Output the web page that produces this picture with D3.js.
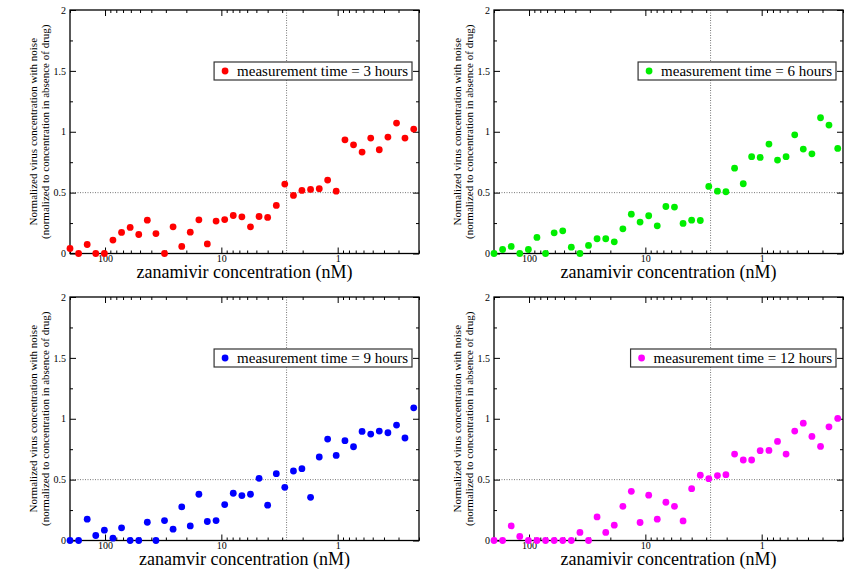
<!DOCTYPE html>
<html>
<head>
<meta charset="utf-8">
<script src="https://cdn.jsdelivr.net/npm/d3@7"></script>
<style>
  body { margin: 0; background: #fff; }
  svg text { font-family: "Liberation Serif", "DejaVu Serif", serif; fill: #000; }
</style>
</head>
<body>
<script>
const width = 861;
const height = 569;
const serif = '"Liberation Serif", "DejaVu Serif", serif';

// drug concentrations (nM), same for all four panels
const concentrations = [200, 168.7, 142.3, 120.1, 101.3, 85.5, 72.1, 60.8, 51.3, 43.3,
  36.5, 30.8, 26.0, 21.9, 18.5, 15.6, 13.2, 11.1, 9.36, 7.90,
  6.66, 5.62, 4.74, 4.00, 3.37, 2.85, 2.40, 2.03, 1.71, 1.44,
  1.22, 1.03, 0.866, 0.731, 0.617, 0.520, 0.439, 0.370, 0.312, 0.264, 0.222];

const resp3h = [0.041, 0, 0.074, 0, 0, 0.11, 0.173, 0.214, 0.156, 0.274,
  0.164, 0, 0.219, 0.058, 0.175, 0.277, 0.079, 0.266, 0.279, 0.312,
  0.301, 0.219, 0.304, 0.296, 0.395, 0.570, 0.477, 0.518, 0.526, 0.532,
  0.603, 0.512, 0.934, 0.893, 0.833, 0.948, 0.852, 0.956, 1.071, 0.948, 1.022];

const resp6h = [0, 0.033, 0.058, 0, 0.033, 0.132, 0, 0.170, 0.186, 0.052,
  0, 0.066, 0.121, 0.121, 0.096, 0.203, 0.323, 0.258, 0.310, 0.227,
  0.386, 0.381, 0.247, 0.274, 0.271, 0.551, 0.512, 0.507, 0.701, 0.573,
  0.795, 0.789, 0.899, 0.767, 0.795, 0.975, 0.858, 0.819, 1.115, 1.055, 0.863];

const resp9h = [0, 0, 0.175, 0.041, 0.085, 0.019, 0.104, 0, 0, 0.150,
  0, 0.164, 0.093, 0.276, 0.120, 0.380, 0.156, 0.164, 0.295, 0.388,
  0.369, 0.380, 0.511, 0.290, 0.549, 0.437, 0.571, 0.590, 0.355, 0.686,
  0.833, 0.699, 0.820, 0.770, 0.896, 0.874, 0.899, 0.885, 0.948, 0.842, 1.090];

const resp12h = [0, 0, 0.120, 0.033, 0, 0, 0, 0, 0, 0,
  0.066, 0, 0.194, 0.066, 0.126, 0.281, 0.404, 0.148, 0.372, 0.175,
  0.314, 0.281, 0.161, 0.426, 0.536, 0.508, 0.533, 0.541, 0.710, 0.661,
  0.661, 0.738, 0.740, 0.814, 0.710, 0.899, 0.964, 0.855, 0.773, 0.934, 1.003];

const legendLabels = ["measurement time = 3 hours", "measurement time = 6 hours",
  "measurement time = 9 hours", "measurement time = 12 hours"];
const xTitles = ["zanamivir concentration (nM)", "zanamivir concentration (nM)",
  "zanamvir concentration (nM)", "zanamivir concentration (nM)"];
const colors = ["#ff0000", "#00ee00", "#0000ff", "#ff00ff"];
const series = [resp3h, resp6h, resp9h, resp12h];

const xDomain = [200, 0.2];
const yDomain = [0, 2];
const xMajorTicks = [100, 10, 1];
const yMajorTicks = [0, 0.5, 1, 1.5, 2];
const yMinorTicks = [0.25, 0.75, 1.25, 1.75];
const refConc = 2.75;   // vertical dotted line
const refResp = 0.5;    // horizontal dotted line

const panels = [
  {left: 70, top: 10},
  {left: 494, top: 10},
  {left: 70, top: 297},
  {left: 494, top: 297}
];
const pw = 349, ph = 243.5;

const svg = d3.select('body')
  .append('svg')
  .attr('width', width)
  .attr('height', height)
  .attr('font-family', serif);

const x = d3.scaleLog().domain(xDomain).range([0, pw]);
const y = d3.scaleLinear().domain(yDomain).range([ph, 0]);
const xMinorTicks = x.ticks().filter(d => !xMajorTicks.includes(d));

panels.forEach((p, i) => {
  const g = svg.append('g')
    .attr('transform', `translate(${p.left}, ${p.top})`);

  // reference lines
  g.append('line')
    .attr('x1', x(refConc)).attr('x2', x(refConc))
    .attr('y1', 0).attr('y2', ph)
    .style('stroke', '#555').style('stroke-width', 0.8)
    .style('stroke-dasharray', '1,1.5');
  g.append('line')
    .attr('x1', 0).attr('x2', pw)
    .attr('y1', y(refResp)).attr('y2', y(refResp))
    .style('stroke', '#555').style('stroke-width', 0.8)
    .style('stroke-dasharray', '1,1.5');

  // inward ticks on all four sides
  const axes = [
    g.append('g').attr('transform', `translate(0, ${ph})`)
      .call(d3.axisBottom(x).tickValues(xMajorTicks).tickSize(-6).tickPadding(1).tickFormat(d3.format(''))),
    g.append('g').attr('transform', `translate(0, ${ph})`)
      .call(d3.axisBottom(x).tickValues(xMinorTicks).tickSize(-3).tickFormat('')),
    g.append('g')
      .call(d3.axisTop(x).tickValues(xMajorTicks).tickSize(-6).tickFormat('')),
    g.append('g')
      .call(d3.axisTop(x).tickValues(xMinorTicks).tickSize(-3).tickFormat('')),
    g.append('g')
      .call(d3.axisLeft(y).tickValues(yMajorTicks).tickSize(-6).tickPadding(4).tickFormat(d3.format(''))),
    g.append('g')
      .call(d3.axisLeft(y).tickValues(yMinorTicks).tickSize(-3).tickFormat('')),
    g.append('g').attr('transform', `translate(${pw}, 0)`)
      .call(d3.axisRight(y).tickValues(yMajorTicks).tickSize(-6).tickFormat('')),
    g.append('g').attr('transform', `translate(${pw}, 0)`)
      .call(d3.axisRight(y).tickValues(yMinorTicks).tickSize(-3).tickFormat(''))
  ];
  axes.forEach(a => {
    a.attr('font-family', serif);
    a.select('.domain').remove();
    a.selectAll('line').style('stroke', '#000').style('stroke-width', 1);
    a.selectAll('text')
      .style('font-family', serif)
      .style('font-size', '10px');
  });

  // frame
  g.append('rect')
    .attr('width', pw).attr('height', ph)
    .style('fill', 'none').style('stroke', '#000').style('stroke-width', 1.3);

  // points
  g.selectAll('circle.pt')
    .data(series[i])
    .enter()
    .append('circle')
    .attr('class', 'pt')
    .attr('cx', (d, k) => x(concentrations[k]))
    .attr('cy', d => y(d))
    .attr('r', 3.4)
    .style('fill', colors[i]);

  // axis titles
  g.append('text')
    .attr('x', pw / 2).attr('y', ph + 24.5)
    .attr('text-anchor', 'middle')
    .style('font-family', serif)
    .style('font-size', '18px')
    .text(xTitles[i]);

  const yl = g.append('text')
    .attr('transform', `translate(-33, ${ph / 2}) rotate(-90)`)
    .attr('text-anchor', 'middle')
    .style('font-family', serif)
    .style('font-size', '11px');
  yl.append('tspan').attr('x', 0).attr('y', 0)
    .text('Normalized virus concentration with noise');
  yl.append('tspan').attr('x', 0).attr('y', 12)
    .text('(normalized to concentration in absence of drug)');

  // legend
  const lg = g.append('g');
  const lt = lg.append('text')
    .attr('y', 0)
    .style('font-family', serif)
    .style('font-size', '15px')
    .text(legendLabels[i]);
  const tw = lt.node().getComputedTextLength();
  const boxRight = pw - 7;
  const boxLeft = boxRight - tw - 27;
  const boxTop = 52;
  lg.insert('rect', 'text')
    .attr('x', boxLeft).attr('y', boxTop)
    .attr('width', boxRight - boxLeft).attr('height', 18)
    .style('fill', '#fff').style('stroke', '#333').style('stroke-width', 1.2);
  lg.append('circle')
    .attr('cx', boxLeft + 11).attr('cy', boxTop + 9)
    .attr('r', 3.4).style('fill', colors[i]);
  lt.attr('x', boxLeft + 23).attr('y', boxTop + 14);
});
</script>
</body>
</html>
